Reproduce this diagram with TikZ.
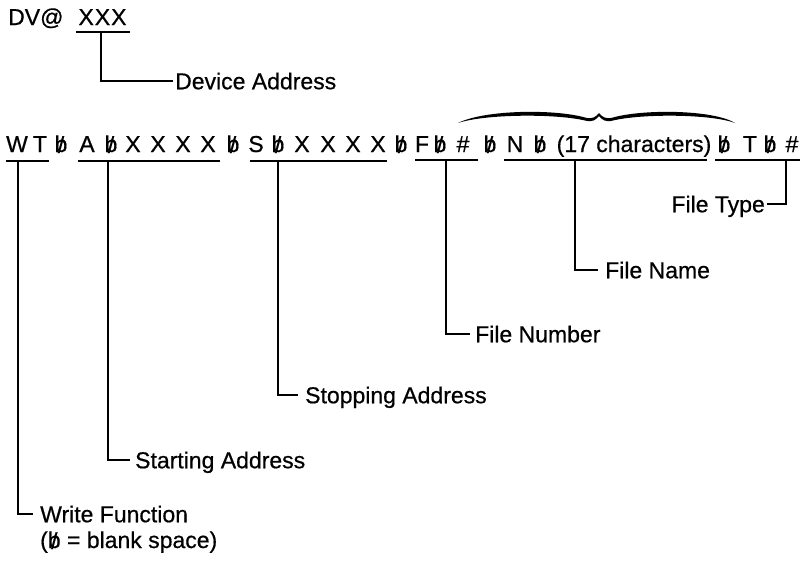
\documentclass[tikz,border=0pt]{standalone}
\usepackage{fontspec}
\setmainfont{Liberation Sans}[FakeBold=0.6]
\newcommand{\bl}{\ooalign{b\cr\hidewidth\raisebox{-0.04em}{/}\hidewidth\cr}}
\begin{document}
\begin{tikzpicture}[x=1pt,y=-1pt,
  font=\fontsize{23}{27}\selectfont,
  ch/.style={anchor=base, inner sep=0pt},
  lbl/.style={inner sep=0pt, text height=16.5pt, text depth=0pt, anchor=west},
  ln/.style={line width=1.5pt},
  conn/.style={line width=1.3pt}]
\useasboundingbox (0,0) rectangle (804,573);

% top line
\node[ch, anchor=base west] (dv) at (8,25) {DV@};
\node[ch] (xxx) at (102.5,25) {X\kern1pt X\kern1pt X};
\coordinate (dvuL) at (76,32);
\coordinate (dvuR) at (130,32);
\coordinate (dvuM) at (101,32);
\draw[ln] (dvuL) -- (dvuR);
\node[lbl] (devaddr) at (175,81) {Device Address};
\draw[conn] (dvuM) |- ([xshift=-2pt]devaddr.west);

% command line characters
\foreach \x/\c [count=\i] in {17/W,40/T,61/\bl,87/A,111/\bl,133/X,158/X,183/X,208/X,233/\bl,
  256/S,278/\bl,302/X,328/X,353/X,378/X,401/\bl,422/F,440/\bl,463/\#,490/\bl,515/N,540/\bl,
  724/\bl,750/T,770/\bl,792/\#}
  \node[ch] (c\i) at (\x,152) {\c};
\node[ch] (chars) at (634,152) {(17 characters)};

% brace
\fill (458,123) .. controls (485,109.5) and (555,109) .. (585,117.5)
  .. controls (592,119.5) and (596,117) .. (599,113)
  .. controls (602,117) and (606,119.5) .. (613,117.5)
  .. controls (643,109) and (713,109.5) .. (735,123)
  .. controls (711,114) and (643,113.5) .. (613,120.5)
  .. controls (606,122.5) and (602,120) .. (599,116)
  .. controls (596,120) and (592,122.5) .. (585,120.5)
  .. controls (555,113.5) and (485,114) .. (458,123) -- cycle;

% underlines
\coordinate (uWa) at (6,161);   \coordinate (uWb) at (49,161);  \coordinate (uWm) at (18,161);
\coordinate (uAa) at (78,161);  \coordinate (uAb) at (220,161); \coordinate (uAm) at (108,161);
\coordinate (uSa) at (250,161); \coordinate (uSb) at (387,161); \coordinate (uSm) at (278,161);
\coordinate (uFa) at (415,160); \coordinate (uFb) at (478,160); \coordinate (uFm) at (446,160);
\coordinate (uNa) at (504,160); \coordinate (uNb) at (707,160); \coordinate (uNm) at (575,160);
\coordinate (uTa) at (715,160); \coordinate (uTb) at (800,160); \coordinate (uTm) at (786,160);
\draw[ln] (uWa) -- (uWb);
\draw[ln] (uAa) -- (uAb);
\draw[ln] (uSa) -- (uSb);
\draw[ln] (uFa) -- (uFb);
\draw[ln] (uNa) -- (uNb);
\draw[ln] (uTa) -- (uTb);

% labels
\node[lbl] (wf) at (40,514) {Write Function};
\node[inner sep=0pt, anchor=base west] (blank) at (40,548) {(\bl\ = blank space)};
\node[lbl] (sa) at (135,460) {Starting Address};
\node[lbl] (spa) at (305,395) {Stopping Address};
\node[lbl] (fnum) at (475,334) {File Number};
\node[lbl] (fname) at (605,270) {File Name};
\node[lbl, anchor=east] (ftype) at (765,204) {File Type};

% connectors
\draw[conn] (uWm) |- ([xshift=-7pt]wf.west);
\draw[conn] (uAm) |- ([xshift=-5pt]sa.west);
\draw[conn] (uSm) |- ([xshift=-7pt]spa.west);
\draw[conn] (uFm) |- ([xshift=-5pt]fnum.west);
\draw[conn] (uNm) |- ([xshift=-7pt]fname.west);
\draw[conn] (uTm) |- ([xshift=2pt]ftype.east);
\end{tikzpicture}
\end{document}
